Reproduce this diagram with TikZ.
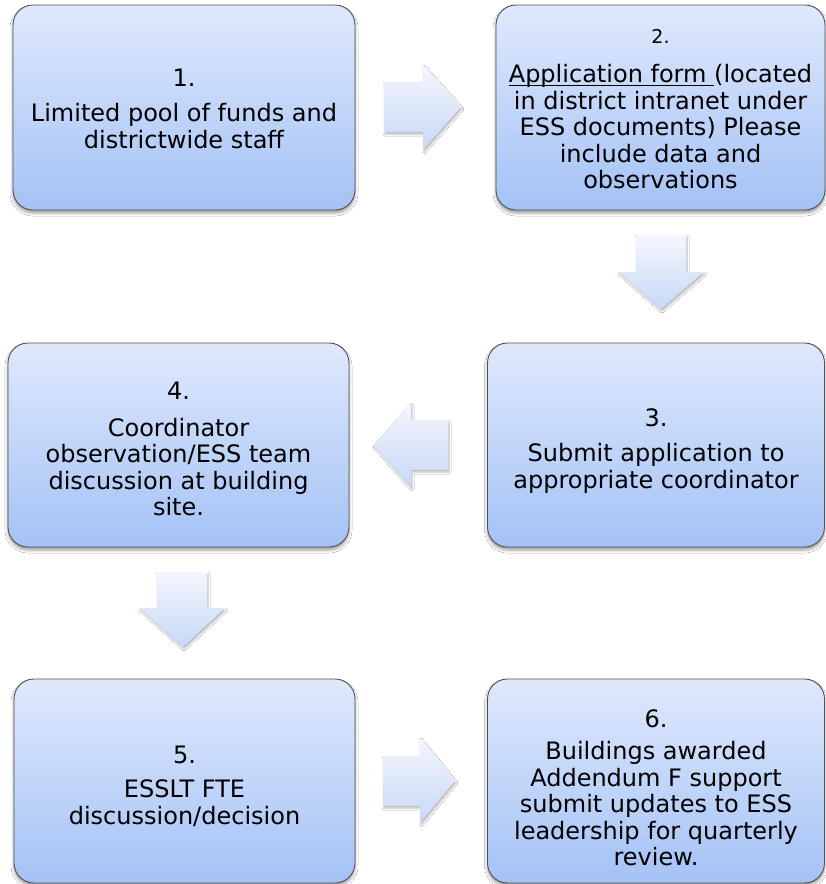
\documentclass[tikz,border=0pt]{standalone}
\usepackage{fontspec}
\setmainfont{DejaVu Sans}
\usetikzlibrary{shadows,shadows.blur}
\definecolor{boxtop}{RGB}{223,233,252}
\definecolor{boxbot}{RGB}{164,194,246}
\definecolor{boxline}{RGB}{80,80,80}
\definecolor{arrtop}{RGB}{243,246,253}
\definecolor{arrbot}{RGB}{200,216,247}
\newcommand\myulinetext[1]{\setbox0\hbox{#1}\rlap{\rule[-3.6pt]{\wd0}{1.1pt}}\box0}
\tikzset{
  stepbox/.style={draw=boxline, line width=0.9pt, rounded corners=20pt,
    top color=boxtop, bottom color=boxbot, inner sep=0pt,
    blur shadow={shadow xshift=0pt, shadow yshift=-3pt, shadow blur radius=3pt, shadow opacity=40}},
  steptext/.style={align=center, inner sep=0pt, font=\fontsize{24}{26.5}\selectfont},
  blockarrow/.style={top color=arrtop, bottom color=arrbot, draw=none,
    blur shadow={shadow xshift=1pt, shadow yshift=-2pt, shadow blur radius=2pt, shadow opacity=30}}
}
\begin{document}
\begin{tikzpicture}[x=1pt,y=-1pt]
\useasboundingbox (0,0) rectangle (826,884);
\fill[white] (0,0) rectangle (826,884);

\node[stepbox, minimum width=342pt, minimum height=205pt] (b1) at (184,107.5) {};
\node[steptext] (t1) at ([yshift=-1.5pt]b1.center)
  {1.\\[8.5pt] Limited pool of funds and\\ districtwide staff};
\node[stepbox, minimum width=329pt, minimum height=205pt] (b2) at (660.5,107.5) {};
\node[steptext] (t2) at ([yshift=-1.5pt]b2.center)
  {{\fontsize{19}{21}\selectfont 2.}\\[13pt] \myulinetext{Application form\ }(located\\ in district intranet under\\ ESS documents) Please\\ include data and\\ observations};
\node[stepbox, minimum width=337pt, minimum height=204pt] (b3) at (656,445) {};
\node[steptext] (t3) at ([yshift=-6pt]b3.center)
  {3.\\[8.5pt] Submit application to\\ appropriate coordinator};
\node[stepbox, minimum width=341pt, minimum height=204pt] (b4) at (178.5,445) {};
\node[steptext] (t4) at ([yshift=-4pt]b4.center)
  {4.\\[10pt] Coordinator\\ observation/ESS team\\ discussion at building\\ site.};
\node[stepbox, minimum width=341pt, minimum height=204pt] (b5) at (184.5,781) {};
\node[steptext] (t5) at ([yshift=-5pt]b5.center)
  {5.\\[8pt] ESSLT FTE\\ discussion/decision};
\node[stepbox, minimum width=337pt, minimum height=204pt] (b6) at (656,781) {};
\node[steptext] (t6) at ([yshift=-7pt]b6.center)
  {6.\\[6pt] Buildings awarded\\ Addendum F support\\ submit updates to ESS\\ leadership for quarterly\\ review.};

% block arrows
% 1 -> 2 (right)
\path[blockarrow] (384,82) -- (423,82) -- (423,65) -- (461,107) -- (423,150) -- (423,132) -- (384,132) -- cycle;
% 2 -> 3 (down)
\path[blockarrow] (636,235) -- (686,235) -- (686,272) -- (704,272) -- (661,309) -- (619,272) -- (636,272) -- cycle;
% 3 -> 4 (left)
\path[blockarrow] (448,420) -- (411,420) -- (411,403) -- (374,445) -- (411,487) -- (411,470) -- (448,470) -- cycle;
% 4 -> 5 (down)
\path[blockarrow] (157,572) -- (207,572) -- (207,608) -- (225,608) -- (183,647) -- (140,608) -- (157,608) -- cycle;
% 5 -> 6 (right)
\path[blockarrow] (383,756) -- (420,756) -- (420,738) -- (455,781) -- (420,823) -- (420,806) -- (383,806) -- cycle;
\end{tikzpicture}
\end{document}
